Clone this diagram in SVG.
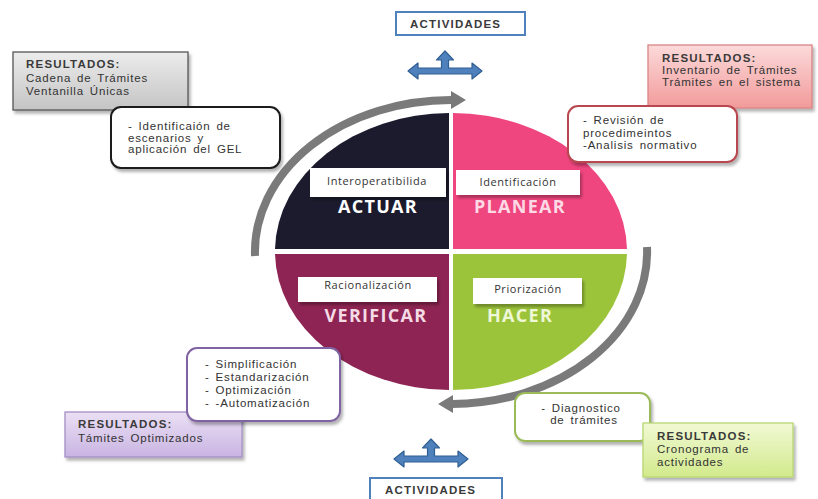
<svg xmlns="http://www.w3.org/2000/svg" width="818" height="499" viewBox="0 0 818 499">
  <defs>
    <style>
      .t { font-family: "Liberation Sans", Arial, sans-serif; font-size: 11.5px; fill: #333; letter-spacing: 0.8px; word-spacing: 2px; }
      .h { font-weight: bold; letter-spacing: 1.2px; word-spacing: 0; fill: #3a3a3a; }
      .lbl { font-family: "Open Sans", "Liberation Sans", sans-serif; font-size: 11px; fill: #333; letter-spacing: 0.6px; text-anchor: middle; }
      .q { font-family: "Open Sans", "Liberation Sans", sans-serif; font-weight: bold; font-size: 18px; letter-spacing: 1.3px; text-anchor: middle; }
      .act { fill: #fff; stroke-width: 2; }
      .res { stroke-width: 1.3; }
      .wbox { fill: #fff; }
      .arc { fill: none; stroke: #7a7a7a; stroke-width: 8; }
      .blue { fill: #4f81bd; stroke: #2f5f93; stroke-width: 1.2; stroke-linejoin: round; }
      .actv { fill: #fff; stroke: #4f81bd; stroke-width: 2; }
    </style>
    <filter id="sh" x="-10%" y="-15%" width="125%" height="145%">
      <feDropShadow dx="2" dy="3" stdDeviation="1.8" flood-color="#000" flood-opacity="0.3"/>
    </filter>
    <linearGradient id="gGray" x1="0" y1="0" x2="0" y2="1">
      <stop offset="0" stop-color="#ececec"/><stop offset="1" stop-color="#c4c4c4"/>
    </linearGradient>
    <linearGradient id="gPink" x1="0" y1="0" x2="0" y2="1">
      <stop offset="0" stop-color="#fcdada"/><stop offset="1" stop-color="#f29a9a"/>
    </linearGradient>
    <linearGradient id="gLav" x1="0" y1="0" x2="0" y2="1">
      <stop offset="0" stop-color="#ebe0f5"/><stop offset="1" stop-color="#c9b4e2"/>
    </linearGradient>
    <linearGradient id="gGreen" x1="0" y1="0" x2="0" y2="1">
      <stop offset="0" stop-color="#f1f9d4"/><stop offset="1" stop-color="#d2ea8c"/>
    </linearGradient>
    <marker id="ah" markerUnits="userSpaceOnUse" markerWidth="16" markerHeight="18" refX="1" refY="9" orient="auto">
      <path d="M0,0 L15,9 L0,18 Z" fill="#7a7a7a"/>
    </marker>
    <path id="tee" d="M-37,0 L-27,-8 L-27,-3 L-3.5,-3 L-3.5,-11 L-8.5,-11 L0,-20 L8.5,-11 L3.5,-11 L3.5,-3 L27,-3 L27,-8 L37,0 L27,8 L27,3 L-27,3 L-27,8 Z"/>
  </defs>

  <rect width="818" height="499" fill="#fff"/>

  <!-- PDCA circle -->
  <g id="actuar">
    <path d="M449,249 L449,113 A176,138.5 0 0 0 275,249 Z" fill="#1c1b2d"/>
    <rect class="wbox" x="310" y="168" width="136" height="29" filter="url(#sh)"/>
    <text class="lbl" x="377" y="185">Interoperatibilida</text>
    <text class="q" x="378" y="213" fill="#ffffff">ACTUAR</text>
  </g>
  <g id="planear">
    <path d="M453,249 L627,249 A176,138.5 0 0 0 453,113 Z" fill="#f0467f"/>
    <rect class="wbox" x="456" y="170" width="124" height="25" filter="url(#sh)"/>
    <text class="lbl" x="518" y="186">Identificación</text>
    <text class="q" x="520" y="213" fill="#fcd9e5">PLANEAR</text>
  </g>
  <g id="verificar">
    <path d="M449,254 L275,254 A176,138.5 0 0 0 449,390 Z" fill="#8e2453"/>
    <rect class="wbox" x="298" y="277" width="139" height="25" filter="url(#sh)"/>
    <text class="lbl" x="368" y="289">Racionalización</text>
    <text class="q" x="376" y="322" fill="#f4dbe5">VERIFICAR</text>
  </g>
  <g id="hacer">
    <path d="M453,254 L453,390 A176,138.5 0 0 0 627,254 Z" fill="#9cc43b"/>
    <rect class="wbox" x="473" y="278" width="109" height="26" filter="url(#sh)"/>
    <text class="lbl" x="528" y="293">Priorización</text>
    <text class="q" x="520" y="322" fill="#eef7d6">HACER</text>
  </g>

  <!-- connectors -->
  <g id="connectors">
    <path class="arc" d="M255,256 A196,152 0 0 1 452,100" marker-end="url(#ah)"/>
    <path class="arc" d="M647,247 A196,152 0 0 1 452,404" marker-end="url(#ah)"/>
    <use href="#tee" class="blue" transform="translate(445,71)"/>
    <use href="#tee" class="blue" transform="translate(431,459)"/>
  </g>

  <!-- ACTIVIDADES labels -->
  <g id="actividades-top">
    <rect class="actv" x="396" y="12" width="129" height="23"/>
    <text class="t h" x="410" y="28">ACTIVIDADES</text>
  </g>
  <g id="actividades-bottom">
    <rect class="actv" x="370" y="478" width="132" height="30"/>
    <text class="t h" x="385" y="494">ACTIVIDADES</text>
  </g>

  <!-- ACTUAR side -->
  <g id="res-actuar">
    <rect class="res" x="13" y="52" width="175" height="58" fill="url(#gGray)" stroke="#555" filter="url(#sh)"/>
    <text class="t h" x="26" y="68">RESULTADOS:</text>
    <text class="t" x="26" y="82">Cadena de Trámites</text>
    <text class="t" x="26" y="95">Ventanilla Únicas</text>
  </g>
  <g id="act-actuar">
    <rect class="act" x="111" y="107" width="169" height="61" rx="10" stroke="#1a1a1a" filter="url(#sh)"/>
    <text class="t" x="128" y="130">- Identificaión de</text>
    <text class="t" x="128" y="141.5">escenarios y</text>
    <text class="t" x="128" y="153">aplicación del GEL</text>
  </g>

  <!-- PLANEAR side -->
  <g id="res-planear">
    <rect class="res" x="648" y="45" width="164" height="63" fill="url(#gPink)" stroke="#d98585" filter="url(#sh)"/>
    <text class="t h" x="662" y="62">RESULTADOS:</text>
    <text class="t" x="662" y="74">Inventario de Trámites</text>
    <text class="t" x="662" y="86">Trámites en el sistema</text>
  </g>
  <g id="act-planear">
    <rect class="act" x="568" y="106" width="169" height="56" rx="10" stroke="#b9474f" filter="url(#sh)"/>
    <text class="t" x="583" y="124">- Revisión de</text>
    <text class="t" x="583" y="136.5">procedimeintos</text>
    <text class="t" x="583" y="149">-Analisis normativo</text>
  </g>

  <!-- VERIFICAR side -->
  <g id="res-verificar">
    <rect class="res" x="65" y="412" width="177" height="45" fill="url(#gLav)" stroke="#a48fc4" filter="url(#sh)"/>
    <text class="t h" x="78" y="428">RESULTADOS:</text>
    <text class="t" x="78" y="442">Támites Optimizados</text>
  </g>
  <g id="act-verificar">
    <rect class="act" x="187" y="348" width="153" height="73" rx="10" stroke="#8064a2" filter="url(#sh)"/>
    <text class="t" x="205" y="368">- Simplificación</text>
    <text class="t" x="205" y="381">- Estandarización</text>
    <text class="t" x="205" y="394">- Optimización</text>
    <text class="t" x="205" y="407">- -Automatización</text>
  </g>

  <!-- HACER side -->
  <g id="act-hacer">
    <rect class="act" x="515" y="393" width="135" height="48" rx="10" stroke="#9bbb59" filter="url(#sh)"/>
    <text class="t" x="581" y="412" text-anchor="middle">- Diagnostico</text>
    <text class="t" x="584" y="424" text-anchor="middle">de trámites</text>
  </g>
  <g id="res-hacer">
    <rect class="res" x="643" y="423" width="150" height="54" fill="url(#gGreen)" stroke="#b8d672" filter="url(#sh)"/>
    <text class="t h" x="657" y="440">RESULTADOS:</text>
    <text class="t" x="657" y="453">Cronograma de</text>
    <text class="t" x="657" y="466">actividades</text>
  </g>
</svg>
